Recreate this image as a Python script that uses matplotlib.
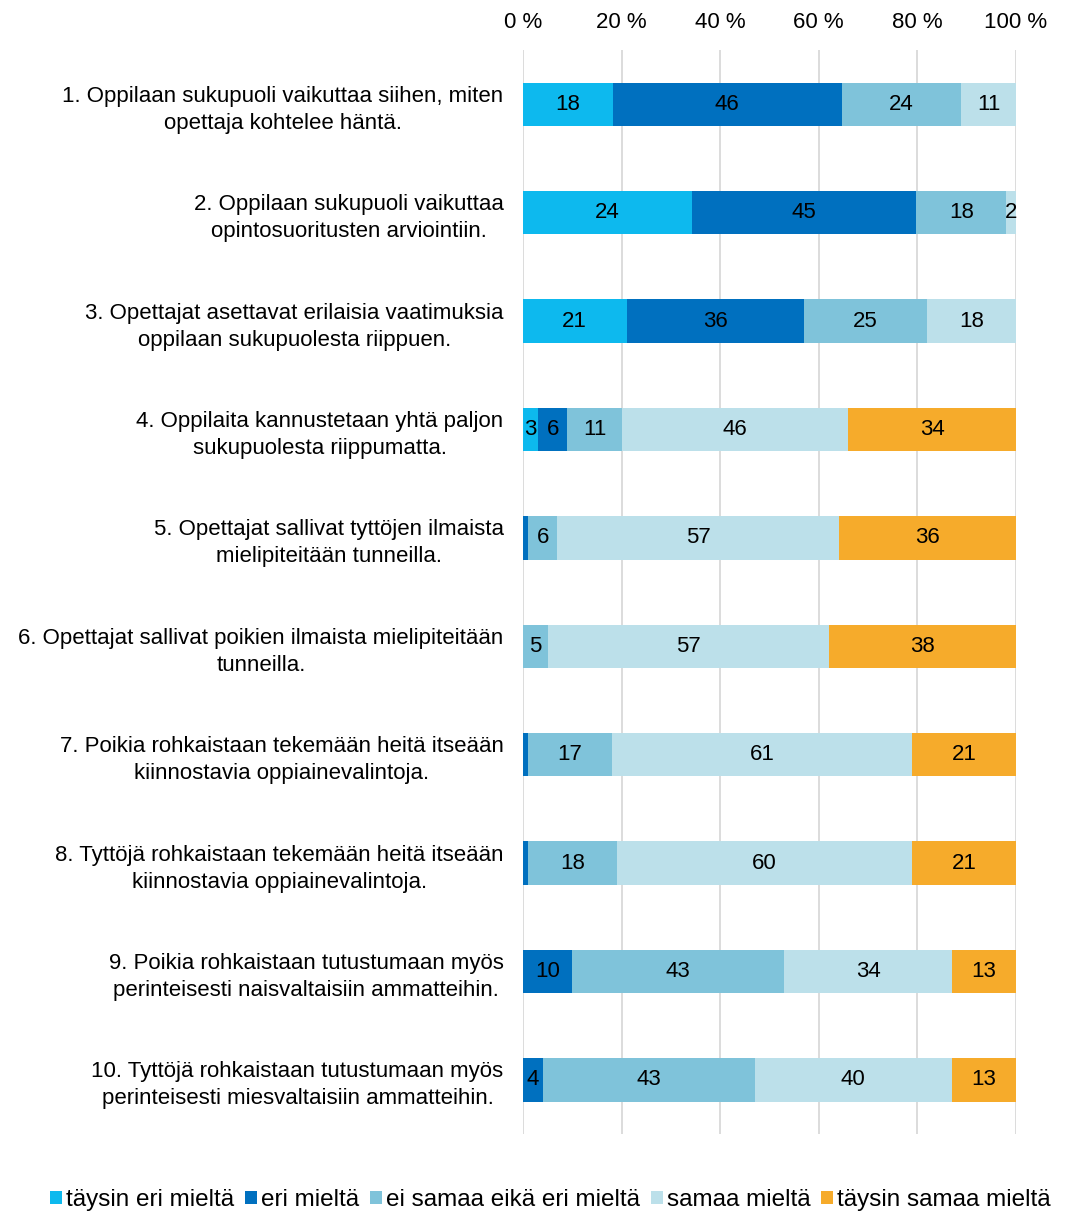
import matplotlib
matplotlib.use("Agg")
import matplotlib.pyplot as plt
import numpy as np

plt.rcParams['font.family'] = ['Liberation Sans', 'DejaVu Sans']

categories = [
    "1. Oppilaan sukupuoli vaikuttaa siihen, miten\nopettaja kohtelee häntä.",
    "2. Oppilaan sukupuoli vaikuttaa\nopintosuoritusten arviointiin.",
    "3. Opettajat asettavat erilaisia vaatimuksia\noppilaan sukupuolesta riippuen.",
    "4. Oppilaita kannustetaan yhtä paljon\nsukupuolesta riippumatta.",
    "5. Opettajat sallivat tyttöjen ilmaista\nmielipiteitään tunneilla.",
    "6. Opettajat sallivat poikien ilmaista mielipiteitään\ntunneilla.",
    "7. Poikia rohkaistaan tekemään heitä itseään\nkiinnostavia oppiainevalintoja.",
    "8. Tyttöjä rohkaistaan tekemään heitä itseään\nkiinnostavia oppiainevalintoja.",
    "9. Poikia rohkaistaan tutustumaan myös\nperinteisesti naisvaltaisiin ammatteihin.",
    "10. Tyttöjä rohkaistaan tutustumaan myös\nperinteisesti miesvaltaisiin ammatteihin.",
]
series_names = ["täysin eri mieltä", "eri mieltä", "ei samaa eikä eri mieltä",
                "samaa mieltä", "täysin samaa mieltä"]

# segment sizes (percent) as drawn
taysin_eri = [18, 34, 21, 3, 0, 0, 0, 0, 0, 0]
eri = [46, 45, 36, 6, 1, 0, 1, 1, 10, 4]
ei_samaa_eika_eri = [24, 18, 25, 11, 6, 5, 17, 18, 43, 43]
samaa = [11, 2, 18, 46, 57, 57, 61, 60, 34, 40]
taysin_samaa = [0, 0, 0, 34, 36, 38, 21, 21, 13, 13]
# printed label for the first series (row 2 prints 24 in the original)
taysin_eri_printed = [18, 24, 21, 3, 0, 0, 0, 0, 0, 0]

colors = ["#0DB9EE", "#0070BF", "#7FC3DA", "#BCE0EA", "#F6AB2B"]
ticks = [0, 20, 40, 60, 80, 100]
tick_labels = ["0 %", "20 %", "40 %", "60 %", "80 %", "100 %"]

data = np.array([taysin_eri, eri, ei_samaa_eika_eri, samaa, taysin_samaa], dtype=float)
printed = np.array([taysin_eri_printed, eri, ei_samaa_eika_eri, samaa, taysin_samaa])
pct = data / data.sum(axis=0) * 100

FS = 16
fig = plt.figure(figsize=(10.73, 12.16), dpi=100)
ax = fig.add_axes([0.4874, 0.0674, 0.4595, 0.8914])

y = np.arange(len(categories))
left = np.zeros(len(categories))
handles = []
for i, name in enumerate(series_names):
    h = ax.barh(y, pct[i], left=left, height=0.4, color=colors[i], label=name, zorder=3)
    handles.append(h)
    for j in range(len(categories)):
        if printed[i, j] >= 2:
            ax.text(left[j] + pct[i, j] / 2, y[j], f"{int(printed[i, j])}",
                    ha="center", va="center", fontsize=FS, color="black", zorder=4)
    left += pct[i]

ax.set_xlim(0, 100)
ax.set_ylim(len(categories) - 0.5, -0.5)
ax.set_xticks(ticks)
ax.set_xticklabels(tick_labels, fontsize=FS)
ax.xaxis.tick_top()
ax.tick_params(axis="x", length=0, pad=12)
ax.set_yticks(y)
ax.set_yticklabels(categories, fontsize=FS, linespacing=1.38)
for lab in ax.get_yticklabels():
    lab.set_horizontalalignment("right")
    lab.set_multialignment("center")
ax.tick_params(axis="y", length=0, pad=14)
ax.grid(axis="x", color="#D9D9D9", linewidth=1.3, zorder=0)
for s in ax.spines.values():
    s.set_visible(False)

fig.legend(handles=handles, labels=series_names, loc="lower center",
           bbox_to_anchor=(0.513, -0.014), ncol=5, frameon=False, fontsize=17.5,
           handlelength=0.5, handleheight=0.5, handletextpad=0.15, columnspacing=0.45)

fig.savefig("out.png", dpi=100)
